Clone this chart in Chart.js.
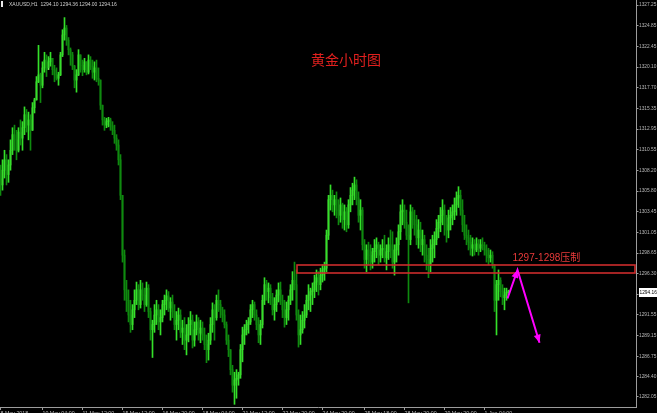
<!DOCTYPE html>
<html>
<head>
<meta charset="utf-8">
<script src="https://cdn.jsdelivr.net/npm/chart.js@4.4.1/dist/chart.umd.min.js"></script>
<style>
html, body { margin: 0; padding: 0; background: #000; }
#wrap { width: 657px; height: 413px; }
</style>
</head>
<body>
<div id="wrap"><canvas id="gold-chart" width="657" height="413"></canvas></div>
<script>
// XAUUSD H1
const symbolName = 'XAUUSD,H1';
const lastOHLC = [1294.10, 1294.36, 1294.00, 1294.16];
const firstOpen = 1307.2;

const highs = [
  1308.8,1309.4,1310.5,1310.0,1309.4,1311.7,1313.1,1313.4,1312.8,1313.1,
  1314.0,1313.8,1315.5,1315.2,1314.9,1314.6,1316.0,1316.5,1319.0,1322.6,
  1319.4,1320.7,1321.8,1321.5,1321.3,1321.8,1321.1,1320.3,1320.0,1319.5,
  1321.8,1324.4,1325.8,1324.9,1323.5,1322.3,1321.8,1320.3,1319.8,1322.1,
  1321.5,1320.9,1321.1,1320.7,1321.5,1321.3,1320.9,1320.7,1320.9,1320.0,
  1318.6,1315.7,1314.3,1314.2,1314.3,1314.2,1313.8,1313.4,1312.3,1311.7,
  1310.0,1305.3,1299.0,1295.5,1294.4,1293.2,1292.7,1294.4,1295.3,1295.0,
  1295.5,1295.2,1294.6,1295.3,1295.0,1292.3,1290.9,1292.7,1293.2,1292.7,
  1292.1,1293.2,1293.8,1294.4,1294.2,1293.5,1293.8,1292.7,1291.9,1292.3,
  1292.1,1290.9,1291.2,1290.4,1291.2,1291.9,1291.5,1290.7,1291.5,1291.2,
  1290.9,1290.7,1290.0,1289.2,1289.4,1291.2,1292.9,1292.7,1293.8,1294.4,
  1293.2,1292.4,1292.1,1290.7,1289.2,1287.5,1285.7,1284.9,1285.2,1284.9,
  1288.1,1290.1,1290.4,1290.9,1291.2,1292.7,1293.2,1293.0,1292.1,1291.2,
  1290.9,1293.8,1295.8,1295.5,1295.2,1295.0,1294.0,1293.5,1294.4,1295.2,
  1295.3,1293.8,1293.2,1293.0,1293.7,1295.0,1296.5,1297.6,1296.7,1292.1,
  1291.5,1291.9,1292.7,1293.8,1295.0,1294.6,1295.2,1296.1,1296.7,1296.5,
  1296.9,1297.3,1297.6,1301.3,1305.3,1306.5,1305.9,1305.3,1305.7,1304.8,
  1305.0,1304.4,1304.2,1303.9,1304.8,1306.2,1306.7,1307.4,1307.1,1305.7,
  1304.8,1303.9,1300.2,1299.6,1299.9,1299.6,1299.2,1300.2,1300.4,1299.9,
  1299.6,1300.2,1300.7,1299.6,1300.4,1301.3,1301.1,1299.6,1300.4,1301.9,
  1304.2,1304.8,1304.2,1303.6,1301.9,1304.2,1303.9,1303.6,1303.0,1302.5,
  1302.2,1301.3,1300.7,1299.6,1299.2,1300.2,1300.7,1301.1,1302.5,1303.0,
  1303.9,1304.8,1304.2,1303.0,1303.6,1303.9,1304.2,1305.0,1305.7,1306.3,
  1305.9,1304.8,1303.0,1301.9,1301.3,1300.7,1300.4,1300.2,1300.4,1300.2,
  1300.2,1300.4,1299.9,1299.6,1299.2,1299.0,1298.8,1297.3,1295.5,1296.7,
  1295.8,1295.0,1294.6,1294.6,1294.36
];
const lows = [
  1305.3,1305.9,1307.3,1306.5,1306.8,1308.2,1310.0,1310.5,1309.4,1310.3,
  1311.1,1310.5,1312.3,1312.6,1311.7,1310.5,1312.8,1314.8,1316.3,1318.3,
  1316.0,1317.7,1319.5,1319.0,1320.0,1320.2,1319.2,1318.4,1318.6,1318.0,
  1319.1,1321.3,1323.2,1322.6,1321.5,1320.3,1319.8,1317.7,1317.2,1319.1,
  1319.5,1319.1,1319.5,1319.2,1319.3,1319.8,1318.8,1318.6,1318.4,1318.0,
  1315.2,1313.4,1312.8,1313.1,1313.2,1312.8,1312.3,1311.3,1310.5,1308.8,
  1304.8,1297.6,1293.2,1291.9,1290.7,1289.5,1289.8,1291.2,1292.7,1292.1,
  1292.3,1293.2,1291.9,1292.5,1291.2,1288.6,1286.6,1289.5,1290.4,1289.8,
  1289.2,1290.7,1291.5,1292.1,1291.9,1290.9,1291.2,1289.8,1288.6,1289.8,
  1288.9,1288.1,1287.5,1286.9,1288.4,1289.2,1287.7,1287.9,1289.2,1288.6,
  1288.3,1288.6,1287.5,1286.0,1286.3,1288.1,1289.5,1288.6,1290.9,1291.9,
  1291.2,1290.7,1290.0,1288.1,1286.7,1284.6,1282.6,1281.2,1281.9,1283.4,
  1284.2,1286.1,1288.1,1289.2,1289.4,1290.4,1291.2,1290.9,1289.8,1288.3,
  1288.1,1290.0,1292.7,1293.2,1292.9,1292.7,1291.5,1290.9,1291.9,1293.0,
  1292.7,1291.2,1290.1,1290.4,1290.9,1292.7,1293.2,1294.4,1290.9,1287.8,
  1288.1,1289.4,1290.0,1291.2,1292.1,1291.9,1292.7,1293.5,1294.2,1293.8,
  1294.4,1295.3,1295.5,1296.5,1300.2,1303.6,1303.4,1303.0,1302.7,1301.9,
  1302.2,1301.5,1301.3,1301.1,1301.5,1303.4,1304.2,1304.8,1304.2,1302.2,
  1301.3,1299.0,1296.9,1296.5,1297.3,1296.7,1296.9,1297.6,1298.1,1297.3,
  1297.6,1298.1,1297.6,1296.7,1297.9,1298.1,1296.9,1296.1,1297.6,1298.4,
  1300.2,1301.9,1301.5,1300.2,1292.9,1299.6,1301.5,1300.7,1299.6,1299.2,
  1298.8,1298.4,1297.6,1296.7,1295.8,1296.5,1297.6,1298.1,1299.6,1300.4,
  1301.1,1301.9,1300.7,1299.9,1300.4,1301.3,1301.9,1302.5,1303.0,1303.9,
  1303.0,1301.1,1300.2,1299.6,1299.0,1298.4,1298.3,1298.4,1298.8,1298.4,
  1298.8,1299.0,1298.4,1297.6,1297.3,1297.6,1296.9,1291.9,1289.2,1293.2,
  1293.6,1292.7,1292.1,1293.2,1294.00
];
const closes = [
  1306.5,1308.2,1309.4,1307.7,1308.8,1310.5,1312.3,1311.7,1310.5,1312.6,
  1311.9,1313.1,1314.6,1313.4,1314.0,1312.8,1315.4,1316.3,1318.4,1319.2,
  1318.0,1320.0,1320.9,1319.8,1320.7,1321.1,1319.8,1319.2,1318.8,1319.2,
  1321.5,1323.8,1324.6,1323.2,1322.1,1321.5,1320.2,1318.6,1319.2,1321.5,
  1320.3,1319.8,1320.7,1319.5,1320.9,1320.2,1319.5,1320.0,1318.8,1318.6,
  1315.7,1314.0,1313.4,1313.8,1314.0,1313.3,1312.8,1311.9,1311.1,1309.4,
  1305.3,1298.4,1294.4,1293.2,1291.5,1290.4,1292.1,1293.2,1294.4,1292.7,
  1294.4,1293.8,1292.7,1294.6,1291.9,1289.8,1290.4,1291.5,1292.1,1290.7,
  1291.2,1292.7,1293.2,1293.7,1292.3,1293.0,1291.9,1290.4,1290.9,1291.5,
  1289.5,1290.0,1288.6,1289.2,1290.4,1290.9,1288.6,1289.8,1290.7,1289.4,
  1290.0,1289.2,1288.1,1287.5,1288.6,1290.4,1292.1,1291.2,1293.2,1292.7,
  1292.1,1291.5,1290.4,1288.6,1287.5,1285.2,1283.4,1284.0,1284.2,1284.6,
  1287.5,1289.2,1289.8,1290.4,1290.7,1292.1,1292.7,1291.5,1290.4,1289.2,
  1290.4,1293.2,1295.0,1294.2,1294.6,1293.5,1292.1,1292.7,1293.8,1294.4,
  1293.2,1292.1,1291.2,1292.1,1293.2,1294.4,1295.5,1295.0,1291.5,1289.2,
  1289.8,1290.9,1291.5,1293.2,1293.8,1294.2,1294.4,1295.3,1295.8,1295.0,
  1296.1,1296.7,1296.9,1300.7,1304.8,1305.3,1304.2,1304.8,1303.6,1303.0,
  1304.2,1302.5,1303.4,1301.9,1304.2,1305.3,1305.9,1306.5,1305.0,1303.0,
  1303.6,1299.6,1297.9,1299.0,1298.4,1297.6,1298.8,1299.2,1299.6,1298.4,
  1299.0,1299.2,1298.1,1298.8,1299.6,1299.0,1297.6,1299.0,1299.6,1301.1,
  1303.4,1303.6,1302.2,1300.7,1300.2,1303.4,1302.5,1301.9,1300.4,1301.3,
  1299.6,1300.2,1298.4,1297.9,1297.3,1299.2,1299.6,1300.2,1301.5,1302.2,
  1303.0,1303.6,1301.9,1301.3,1302.7,1303.0,1303.4,1304.2,1305.0,1305.3,
  1303.6,1301.9,1300.7,1300.4,1299.9,1299.2,1299.6,1299.0,1299.7,1299.2,
  1299.6,1299.5,1299.0,1298.4,1298.1,1298.4,1297.3,1293.2,1295.0,1295.5,
  1294.2,1293.5,1293.8,1294.1,1294.16
];

// axis labels
const yTickValues = [1327.25, 1324.85, 1322.45, 1320.10, 1317.70, 1315.35, 1312.95, 1310.55,
  1308.20, 1305.80, 1303.45, 1301.05, 1298.65, 1296.30, 1293.90, 1291.55, 1289.15, 1286.75,
  1284.40, 1282.05];
const xTickBars = [0, 21, 41, 61, 81, 101, 121, 141, 161, 182, 202, 222, 242];
const xTickLabels = ['8 May 2018', '10 May 04:00', '11 May 12:00', '15 May 12:00', '16 May 20:00',
  '18 May 04:00', '21 May 12:00', '22 May 20:00', '24 May 20:00', '25 May 18:00',
  '28 May 20:00', '29 May 20:00', '1 Jun 04:00'];

// annotations
const titleText = '黄金小时图';
const zoneLabel = '1297-1298压制';
const zoneStartBar = 148;
const zoneTop = 1297.3;
const zoneBottom = 1296.4;
const arrowPath = [[253.5, 1293.4], [258.5, 1296.7], [269.5, 1288.3]];

const opens = closes.map((c, i) => i === 0 ? firstOpen : closes[i - 1]);
opens[opens.length - 1] = lastOHLC[0];
const isUp = closes.map((c, i) => c >= opens[i]);

// up bars lime, down bars darker green; the body a shade brighter than its wick
const upWick = '#34e02a';
const downWick = '#0f8a0f';
const upBody = '#6cff52';
const downBody = '#1aa61a';

function arrowHead(ctx, from, to) {
    const a = Math.atan2(to[1] - from[1], to[0] - from[0]);
    const len = 8, half = 3.5;
    ctx.beginPath();
    ctx.moveTo(to[0], to[1]);
    ctx.lineTo(to[0] - len * Math.cos(a) + half * Math.sin(a), to[1] - len * Math.sin(a) - half * Math.cos(a));
    ctx.lineTo(to[0] - len * Math.cos(a) - half * Math.sin(a), to[1] - len * Math.sin(a) + half * Math.cos(a));
    ctx.closePath();
    ctx.fill();
}

const overlay = {
    id: 'overlay',
    beforeDraw(chart) {
        const ctx = chart.ctx;
        ctx.save();
        ctx.fillStyle = '#000';
        ctx.fillRect(0, 0, chart.width, chart.height);
        ctx.restore();
    },
    afterDatasetsDraw(chart) {
        const { ctx, chartArea, scales: { x, y } } = chart;
        ctx.save();

        // resistance zone
        const zx0 = Math.round(x.getPixelForValue(zoneStartBar));
        const zx1 = chartArea.right - 1;
        const zy0 = Math.round(y.getPixelForValue(zoneTop));
        const zy1 = Math.round(y.getPixelForValue(zoneBottom));
        ctx.strokeStyle = '#cc2c2c';
        ctx.lineWidth = 1.6;
        ctx.strokeRect(zx0, zy0, zx1 - zx0, zy1 - zy0);

        ctx.fillStyle = '#ea3a3a';
        ctx.font = '10px "Liberation Sans", "Noto Sans CJK SC"';
        ctx.textAlign = 'left';
        ctx.textBaseline = 'middle';
        ctx.fillText(zoneLabel, x.getPixelForValue(256), y.getPixelForValue(1298.1));

        // forecast arrows
        const pts = arrowPath.map(p => [x.getPixelForValue(p[0]), y.getPixelForValue(p[1])]);
        ctx.strokeStyle = '#ff00ff';
        ctx.fillStyle = '#ff00ff';
        ctx.lineWidth = 2;
        ctx.beginPath();
        ctx.moveTo(pts[0][0], pts[0][1]);
        ctx.lineTo(pts[1][0], pts[1][1]);
        ctx.lineTo(pts[2][0], pts[2][1]);
        ctx.stroke();
        arrowHead(ctx, pts[0], pts[1]);
        arrowHead(ctx, pts[1], pts[2]);

        // title
        ctx.fillStyle = '#e0201e';
        ctx.font = '14px "Noto Sans CJK SC"';
        ctx.textAlign = 'center';
        ctx.fillText(titleText, chartArea.left + chartArea.width * 0.544, 60);
        ctx.restore();
    },
    afterDraw(chart) {
        const { ctx, chartArea, scales: { y } } = chart;
        ctx.save();
        // header line
        ctx.fillStyle = '#e8e8e8';
        ctx.fillRect(1, 1, 2, 6);
        ctx.fillStyle = '#cfcfcf';
        ctx.font = '5px "Liberation Sans"';
        ctx.textAlign = 'left';
        ctx.textBaseline = 'middle';
        ctx.fillText(symbolName + '  ' + lastOHLC.map(v => v.toFixed(2)).join(' '), 9, 4.5);

        // current price label
        const py = Math.round(y.getPixelForValue(lastOHLC[3]));
        ctx.fillStyle = '#ffffff';
        ctx.fillRect(chartArea.right + 3, py - 4, chart.width - chartArea.right - 3, 9);
        ctx.fillStyle = '#000';
        ctx.font = '4.8px "Liberation Sans"';
        ctx.fillText(lastOHLC[3].toFixed(2), chartArea.right + 3.5, py + 0.5);
        ctx.restore();
    }
};

const ctx = document.getElementById('gold-chart').getContext('2d');
const chart = new Chart(ctx, {
    type: 'bar',
    data: {
        datasets: [{
            label: 'wick',
            data: highs.map((h, i) => ({ x: i, y: [lows[i], h] })),
            backgroundColor: isUp.map(u => u ? upWick : downWick),
            barThickness: 1,
            grouped: false,
            borderWidth: 0
        }, {
            label: 'body',
            data: closes.map((c, i) => ({ x: i, y: [opens[i], c] })),
            backgroundColor: isUp.map(u => u ? upBody : downBody),
            barThickness: 1,
            minBarLength: 1,
            grouped: false,
            borderWidth: 0
        }]
    },
    options: {
        responsive: false,
        animation: false,
        devicePixelRatio: 1,
        layout: { padding: 0 },
        plugins: {
            legend: { display: false },
            tooltip: { enabled: false }
        },
        scales: {
            x: {
                type: 'linear',
                min: -0.25,
                max: 317.75,
                offset: false,
                afterBuildTicks: s => { s.ticks = xTickBars.map(v => ({ value: v })); },
                afterFit: s => { s.height = 6; s.paddingLeft = 0; s.paddingRight = 0; },
                ticks: {
                    autoSkip: false,
                    maxRotation: 0,
                    minRotation: 0,
                    align: 'start',
                    padding: 0,
                    color: '#b8b8b8',
                    font: { family: 'Liberation Sans', size: 5.3 },
                    callback: v => {
                        const k = xTickBars.indexOf(v);
                        return k >= 0 ? xTickLabels[k] : '';
                    }
                },
                grid: { display: true, drawOnChartArea: false, drawTicks: true, tickLength: 3, color: '#9c9c9c', offset: false },
                border: { display: true, color: '#9c9c9c' }
            },
            y: {
                position: 'right',
                min: 1280.89,
                max: 1327.83,
                beginAtZero: false,
                afterBuildTicks: s => { s.ticks = yTickValues.map(v => ({ value: v })); },
                afterFit: s => { s.width = 21; s.paddingTop = 0; s.paddingBottom = 0; },
                ticks: {
                    padding: 0.5,
                    color: '#b8b8b8',
                    font: { family: 'Liberation Sans', size: 4.8 },
                    callback: v => v.toFixed(2)
                },
                grid: { display: true, drawOnChartArea: false, drawTicks: true, tickLength: 2.5, color: '#9c9c9c' },
                border: { display: true, color: '#9c9c9c' }
            }
        }
    },
    plugins: [overlay]
});
</script>
</body>
</html>
